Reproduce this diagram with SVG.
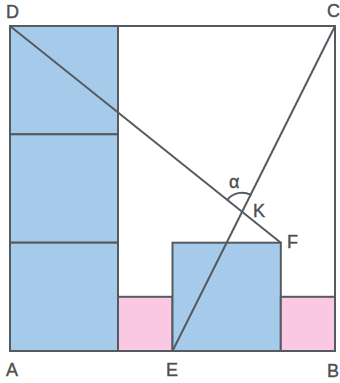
<svg xmlns="http://www.w3.org/2000/svg" width="340" height="383" viewBox="0 0 340 383">
<style>
.blue{fill:#a6cbea;stroke:#555a60;stroke-width:2}
.pink{fill:#fac8e2;stroke:#555a60;stroke-width:2}
.ln{fill:none;stroke:#555a60;stroke-width:2;stroke-linecap:round}
.lbl{font-family:"Liberation Sans",Arial,sans-serif;font-size:18px;fill:#4d4f52;stroke:#4d4f52;stroke-width:0.4}
</style>
<rect width="340" height="383" fill="#ffffff"/>
<g id="outer"><rect x="10" y="26" width="325" height="325" fill="none" stroke="#555a60" stroke-width="2"/></g>
<g id="sq1"><rect class="blue" x="10" y="26" width="108" height="108.3"/></g>
<g id="sq2"><rect class="blue" x="10" y="134.3" width="108" height="108.4"/></g>
<g id="sq3"><rect class="blue" x="10" y="242.7" width="108" height="108.3"/></g>
<g id="pink1"><rect class="pink" x="118" y="296.8" width="54.5" height="54.2"/></g>
<g id="sq4"><rect class="blue" x="172.5" y="242.7" width="108.3" height="108.3"/></g>
<g id="pink2"><rect class="pink" x="280.8" y="296.8" width="54.2" height="54.2"/></g>
<g id="connectors">
<line class="ln" x1="10" y1="26" x2="280.8" y2="242.7"/>
<line class="ln" x1="172.5" y1="351" x2="335" y2="26"/>
<path class="ln" d="M227.3,199.8 A19,19 0 0 1 250.6,194.7" stroke-width="1.5"/>
</g>
<g id="labels">
<text class="lbl" x="6" y="17.5">D</text>
<text class="lbl" x="327" y="16.5">C</text>
<text class="lbl" x="6" y="376">A</text>
<text class="lbl" x="166" y="376">E</text>
<text class="lbl" x="327" y="377">B</text>
<text class="lbl" x="287" y="247.5">F</text>
<text class="lbl" x="253" y="216.5">K</text>
<text class="lbl" x="229" y="188">α</text>
</g>
</svg>
